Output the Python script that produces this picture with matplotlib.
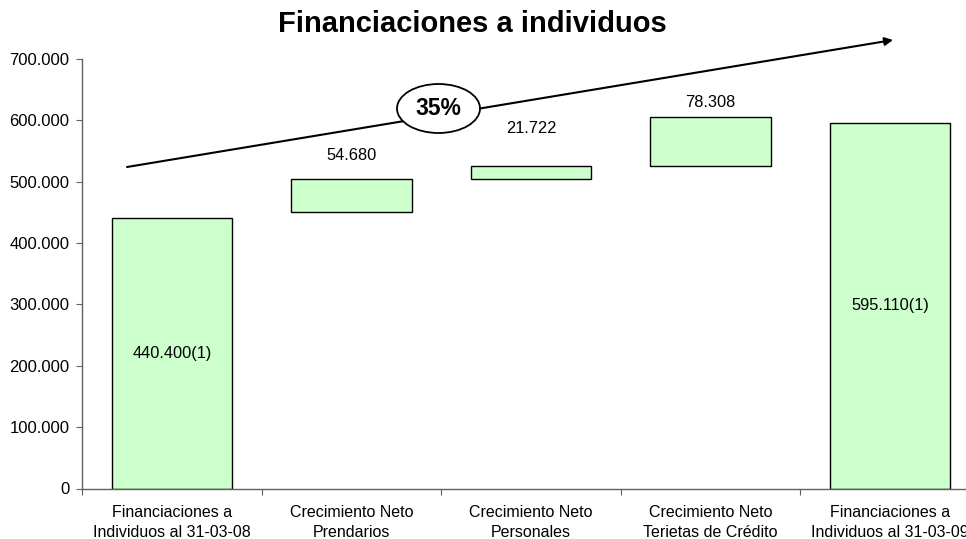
import matplotlib.pyplot as plt
from matplotlib.patches import Ellipse
from matplotlib.ticker import FuncFormatter
import numpy as np

# data
categories = ["Financiaciones a\nIndividuos al 31-03-08",
              "Crecimiento Neto\nPrendarios",
              "Crecimiento Neto\nPersonales",
              "Crecimiento Neto\nTerietas de Crédito",
              "Financiaciones a\nIndividuos al 31-03-09"]
start_value = 440400
increments = [54680, 21722, 78308]
end_value = 595110
floating_base = 450000   # first floating bar starts here in the original
growth_label = "35%"

def fmt_thousands(v, pos=None):
    return "{:,.0f}".format(v).replace(",", ".")

# bar bottoms / heights
bottoms = [0]
heights = [start_value]
level = floating_base
for inc in increments:
    bottoms.append(level)
    heights.append(inc)
    level += inc
bottoms.append(0)
heights.append(end_value)

fig = plt.figure(figsize=(9.66, 5.39), dpi=100)
ax = fig.add_axes([82 / 966, 1 - 488.5 / 539, 898 / 966, 429.5 / 539])

x = np.arange(len(categories))
ax.bar(x, heights, bottom=bottoms, width=0.67, color="#CCFFCC",
       edgecolor="black", linewidth=1.0, zorder=2)

# labels above floating bars (offsets in points, as placed in the original)
label_offsets = [11.5, 21, 5.5]
for i, inc in enumerate(increments):
    j = i + 1
    ax.annotate(fmt_thousands(inc), (x[j], bottoms[j] + heights[j]),
                xytext=(0, label_offsets[i]), textcoords="offset points",
                ha="center", va="bottom", fontsize=11.8, family="Liberation Sans")

# labels inside the total bars
for j, v in [(0, start_value), (len(x) - 1, end_value)]:
    ax.text(x[j], v / 2, fmt_thousands(v) + "(1)", ha="center", va="center",
            fontsize=11.8, family="Liberation Sans")

ax.set_xlim(-0.5, len(x) - 0.5)
ax.set_ylim(0, 700000)
ax.set_yticks(np.arange(0, 700001, 100000))
ax.yaxis.set_major_formatter(FuncFormatter(fmt_thousands))

ax.set_xticks(np.arange(-0.5, len(x), 1.0))
ax.set_xticklabels([])
ax.set_xticks(x, minor=True)
ax.set_xticklabels(categories, minor=True, fontsize=11.5,
                   family="Liberation Sans", linespacing=1.4)
ax.tick_params(axis="x", which="minor", length=0, pad=12)
ax.tick_params(axis="x", which="major", length=4, color="#606060")
ax.tick_params(axis="y", length=4, color="#606060", labelsize=12, pad=5)
for lab in ax.get_yticklabels():
    lab.set_family("Liberation Sans")

for s in ["top", "right"]:
    ax.spines[s].set_visible(False)
for s in ["left", "bottom"]:
    ax.spines[s].set_color("#606060")
    ax.spines[s].set_linewidth(1.0)

fig.text(472 / 966, 1 - 24 / 539, "Financiaciones a individuos", ha="center",
         va="center", fontsize=21, fontweight="bold", family="Liberation Sans")

# growth arrow with ellipse
ax.annotate("", xy=(893 / 966, 1 - 40 / 539), xycoords="figure fraction",
            xytext=(127 / 966, 1 - 167 / 539), textcoords="figure fraction",
            arrowprops=dict(arrowstyle="-|>", color="black", lw=1.5,
                            mutation_scale=12, shrinkA=0, shrinkB=0))
ell = Ellipse((438.5 / 966, 1 - 108.5 / 539), 83 / 966, 49 / 539,
              transform=fig.transFigure, facecolor="white", edgecolor="black",
              linewidth=1.3, zorder=5)
fig.patches.append(ell)
fig.text(438.5 / 966, 1 - 108.5 / 539, growth_label, ha="center", va="center",
         fontsize=16.5, fontweight="bold", family="Liberation Sans", zorder=6)

fig.savefig("out.png", dpi=100)
